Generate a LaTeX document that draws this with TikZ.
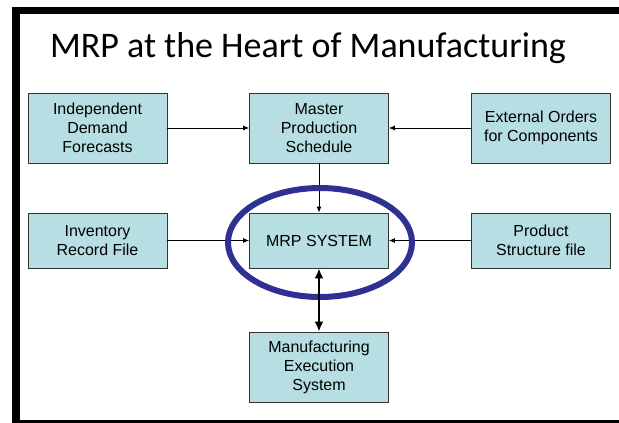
\documentclass[tikz,border=0pt]{standalone}
\usepackage{fontspec}
\setmainfont{Liberation Sans}
\newfontfamily\titlefont{Carlito}
\usetikzlibrary{arrows.meta,calc}
\definecolor{mrpcyan}{RGB}{183,222,226}
\definecolor{mrpblue}{RGB}{46,49,146}

\begin{document}
\begin{tikzpicture}[
  x=1pt, y=-1pt,
  every node/.style={font=\fontsize{16}{19}\selectfont},
  box/.style={rectangle, draw=black!80, fill=mrpcyan, line width=0.8pt,
      minimum width=139pt, minimum height=70pt, align=center, inner sep=0pt},
  link/.style={-{Latex[length=6pt,width=5pt]}, line width=0.8pt},
]
\useasboundingbox (0,0) rectangle (619,423);
\clip (0,0) rectangle (619,423);
% Slide frame (open on the right)
\draw[line width=7.5pt] (619,10.5) -- (16,10.5) -- (16,424) -- (619,424);

% Title
\node[font=\titlefont\fontsize{36}{40}\selectfont, anchor=base] (title) at (308,57)
      {MRP at the Heart of Manufacturing};

% Top row
\node[box] (indep) at (97.5,128) {Independent\\Demand\\Forecasts};
\node[box] (mps) at (319,128) {Master\\Production\\Schedule};
\node[box] (extorders) at (541,128) {External Orders\\for Components};

% Middle row
\node[box, minimum height=55pt] (inventory) at (97.5,240.5) {Inventory\\Record File};
\node[box, minimum height=55pt] (mrp) at (319,240.5) {MRP SYSTEM};
\node[box, minimum height=55pt] (prodstruct) at (541,240.5) {Product\\Structure file};

% Bottom
\node[box] (mes) at (319,367) {Manufacturing\\Execution\\System};

% Arrows connecting components
\draw[link] (indep) -- (mps);
\draw[link] (extorders) -- (mps);
\draw[link] (mps) -- (mrp);
\draw[link] (inventory) -- (mrp);
\draw[link] (prodstruct) -- (mrp);

% Highlight round the MRP system
\draw[mrpblue, line width=6pt] ($(mrp.center)+(1,2)$) ellipse [x radius=92, y radius=54.5];

\draw[{Latex[length=10pt,width=9pt]}-{Latex[length=10pt,width=9pt]}, line width=2.5pt] (mrp) -- (mes);
\end{tikzpicture}
\end{document}
